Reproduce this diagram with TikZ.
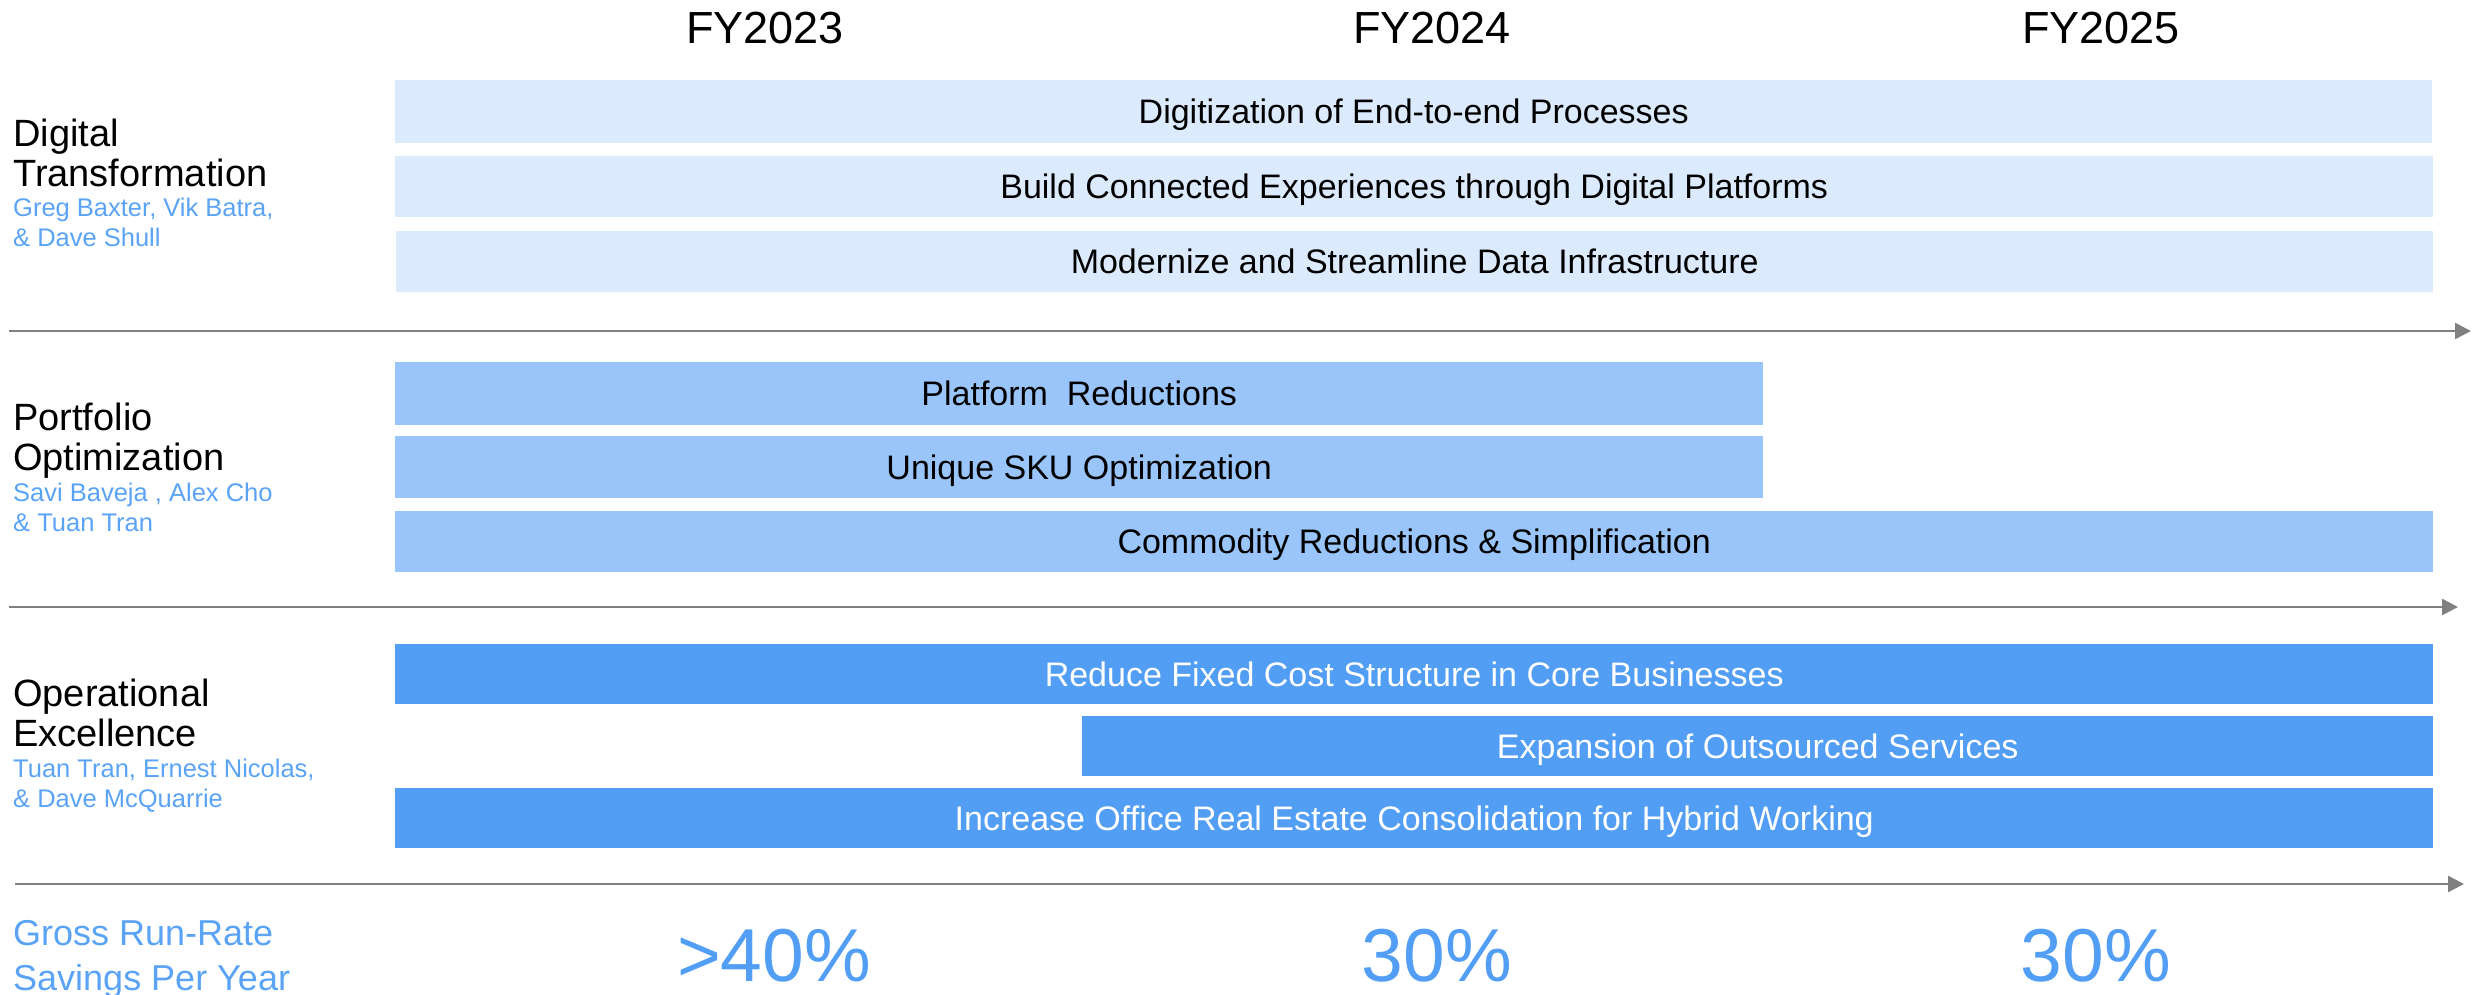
\documentclass[tikz,border=0pt]{standalone}
\usepackage{fontspec}
\setmainfont{Liberation Sans}
\usetikzlibrary{arrows.meta}

\definecolor{barlight}{RGB}{220,234,253}
\definecolor{barmid}{RGB}{153,197,250}
\definecolor{bardark}{RGB}{83,158,245}
\definecolor{nameblue}{RGB}{90,163,245}
\definecolor{axisgray}{RGB}{128,128,128}

\begin{document}
\begin{tikzpicture}[x=1pt,y=-1pt,
  bar/.style={rectangle, inner sep=0pt, anchor=north west,
    font=\fontsize{34}{40}\selectfont, text height=24.3pt, text depth=0pt},
  lightbar/.style={bar, fill=barlight, text=black},
  midbar/.style={bar, fill=barmid, text=black},
  darkbar/.style={bar, fill=bardark, text=white},
  yearlabel/.style={anchor=base, inner sep=0pt, font=\fontsize{45}{50}\selectfont},
  pctlabel/.style={anchor=base, inner sep=0pt, text=bardark, font=\fontsize{75}{80}\selectfont},
  grouptitle/.style={anchor=base west, inner sep=0pt, font=\fontsize{38}{40}\selectfont},
  ownerline/.style={anchor=base west, inner sep=0pt, text=nameblue, font=\fontsize{25.5}{30}\selectfont},
  savingsline/.style={anchor=base west, inner sep=0pt, text=nameblue, font=\fontsize{36}{45}\selectfont},
  timeline/.style={draw=axisgray, line width=2.5pt, -{Triangle[length=16pt,width=16pt]}}
]
\useasboundingbox (0,0) rectangle (2473,994);

% fiscal year headers
\node[yearlabel] (fy23) at (765,43) {FY2023};
\node[yearlabel] (fy24) at (1432,43) {FY2024};
\node[yearlabel] (fy25) at (2101,43) {FY2025};

% Digital Transformation
\node[lightbar, minimum width=2037pt, minimum height=63pt] (d1) at (395,80) {Digitization of End-to-end Processes};
\node[lightbar, minimum width=2038pt, minimum height=61pt] (d2) at (395,156) {Build Connected Experiences through Digital Platforms};
\node[lightbar, minimum width=2037pt, minimum height=61pt] (d3) at (396,231) {Modernize and Streamline Data Infrastructure};

\node[grouptitle] (dt1) at (13,146) {Digital};
\node[grouptitle] (dt2) at (13,186) {Transformation};
\node[ownerline] (dn1) at (13,216) {Greg Baxter, Vik Batra,};
\node[ownerline] (dn2) at (13,246) {\& Dave Shull};

% Portfolio Optimization
\node[midbar, minimum width=1368pt, minimum height=63pt] (p1) at (395,362) {Platform\ \ Reductions};
\node[midbar, minimum width=1368pt, minimum height=62pt] (p2) at (395,436) {Unique SKU Optimization};
\node[midbar, minimum width=2038pt, minimum height=61pt] (p3) at (395,511) {Commodity Reductions \& Simplification};

\node[grouptitle] (pt1) at (13,430) {Portfolio};
\node[grouptitle] (pt2) at (13,470) {Optimization};
\node[ownerline] (pn1) at (13,501) {Savi Baveja , Alex Cho};
\node[ownerline] (pn2) at (13,531) {\& Tuan Tran};

% Operational Excellence
\node[darkbar, minimum width=2038pt, minimum height=60pt] (o1) at (395,644) {Reduce Fixed Cost Structure in Core Businesses};
\node[darkbar, minimum width=1351pt, minimum height=60pt] (o2) at (1082,716) {Expansion of Outsourced Services};
\node[darkbar, minimum width=2038pt, minimum height=60pt] (o3) at (395,788) {Increase Office Real Estate Consolidation for Hybrid Working};

\node[grouptitle] (ot1) at (13,706) {Operational};
\node[grouptitle] (ot2) at (13,746) {Excellence};
\node[ownerline] (on1) at (13,777) {Tuan Tran, Ernest Nicolas,};
\node[ownerline] (on2) at (13,807) {\& Dave McQuarrie};

% separating timelines
\coordinate (a1s) at (9,331);
\coordinate (a1e) at (2471,331);
\coordinate (a2s) at (9,607);
\coordinate (a2e) at (2458,607);
\coordinate (a3s) at (15,884);
\coordinate (a3e) at (2464,884);
\draw[timeline] (a1s) -- (a1e);
\draw[timeline] (a2s) -- (a2e);
\draw[timeline] (a3s) -- (a3e);

% savings row
\node[savingsline] (gs1) at (13,945) {Gross Run-Rate};
\node[savingsline] (gs2) at (13,990) {Savings Per Year};
\node[pctlabel] (s23) at (774,981) {>40\%};
\node[pctlabel] (s24) at (1437,981) {30\%};
\node[pctlabel] (s25) at (2096,981) {30\%};
\end{tikzpicture}
\end{document}
